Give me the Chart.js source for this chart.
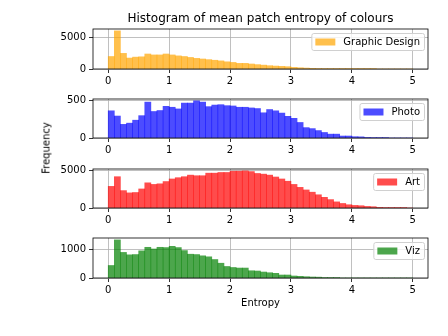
<!DOCTYPE html>
<html>
<head>
<meta charset="utf-8">
<script src="https://cdn.jsdelivr.net/npm/chart.js@4"></script>
<style>
html, body { margin: 0; padding: 0; background: #fff; }
#fig { position: relative; width: 448px; height: 336px; font-family: "DejaVu Sans", sans-serif; color: #000; }
.panel { position: absolute; left: 0; top: 0; width: 448px; height: 336px; }
.lbl { position: absolute; white-space: nowrap; }
</style>
</head>
<body>
<div id="fig">
  <div class="panel"><canvas id="gd"></canvas></div>
  <div class="panel"><canvas id="photo"></canvas></div>
  <div class="panel"><canvas id="art"></canvas></div>
  <div class="panel"><canvas id="viz"></canvas></div>
  <div class="lbl" style="left:93px; width:335px; top:10px; text-align:center; font-size:12px; line-height:16px;">Histogram of mean patch entropy of colours</div>
  <div class="lbl" style="left:93px; width:335px; top:296px; text-align:center; font-size:10px; line-height:13px;">Entropy</div>
  <div class="lbl" style="left:46px; top:148px; font-size:10px; line-height:13px; transform: translate(-50%, -50%) rotate(-90deg);">Frequency</div>
</div>
<script>
// bin centres (bins of 0.1 from 0 to 5)
const binCenters = [0.05, 0.15, 0.25, 0.35, 0.45, 0.55, 0.65, 0.75, 0.85, 0.95,
  1.05, 1.15, 1.25, 1.35, 1.45, 1.55, 1.65, 1.75, 1.85, 1.95,
  2.05, 2.15, 2.25, 2.35, 2.45, 2.55, 2.65, 2.75, 2.85, 2.95,
  3.05, 3.15, 3.25, 3.35, 3.45, 3.55, 3.65, 3.75, 3.85, 3.95,
  4.05, 4.15, 4.25, 4.35, 4.45, 4.55, 4.65, 4.75, 4.85, 4.95];
const xTicks = [0, 1, 2, 3, 4, 5];

const graphicDesign = [2000, 6100, 2500, 1750, 1900, 1950, 2400, 2250, 2250, 2400,
  2250, 2100, 2000, 1850, 1700, 1600, 1500, 1400, 1300, 1150,
  1050, 900, 900, 800, 700, 620, 530, 470, 420, 370,
  260, 200, 150, 110, 80, 50, 30, 20, 12, 8,
  5, 3, 2, 1, 0, 0, 0, 0, 0, 0];
const photo = [359, 290, 180, 196, 235, 295, 474, 350, 363, 418,
  406, 384, 461, 461, 491, 474, 414, 435, 440, 427,
  423, 406, 406, 397, 389, 333, 376, 359, 329, 286,
  260, 205, 137, 124, 98, 73, 51, 51, 26, 26,
  17, 15, 8, 4, 2, 1, 0, 0, 0, 0];
const art = [2860, 4140, 2300, 2000, 2050, 2520, 3330, 3120, 3200, 3500,
  3840, 4010, 4140, 4350, 4270, 4270, 4610, 4610, 4700, 4700,
  4870, 4870, 4910, 4820, 4570, 4480, 4350, 4100, 3840, 3540,
  3120, 2730, 2390, 2090, 1750, 1410, 1110, 810, 600, 430,
  340, 300, 210, 170, 85, 40, 20, 8, 3, 0];
const viz = [440, 1340, 900, 815, 825, 955, 1080, 1020, 1080, 1070,
  1115, 1070, 965, 837, 825, 780, 745, 650, 520, 405,
  370, 350, 350, 255, 245, 210, 185, 165, 105, 105,
  70, 58, 45, 35, 30, 10, 5, 2, 0, 0,
  0, 0, 0, 0, 0, 0, 0, 0, 0, 0];

const gdTicks = [0, 5000];
const photoTicks = [0, 500];
const artTicks = [0, 5000];
const vizTicks = [0, 1000];

const tickFont = { family: "DejaVu Sans", size: 10 };

// axes frame + legend box drawn inside the plot area
const framePlugin = {
  id: "frame",
  afterDatasetsDraw(chart) {
    const a = chart.chartArea, ctx = chart.ctx;
    ctx.save();
    ctx.strokeStyle = "#000";
    ctx.lineWidth = 0.8;
    ctx.strokeRect(a.left, a.top, a.right - a.left, a.bottom - a.top);

    const ds = chart.data.datasets[0];
    ctx.font = "10px 'DejaVu Sans'";
    const tw = ctx.measureText(ds.label).width;
    const w = 4 + 20 + 8 + tw + 4, h = 17;
    const x = a.right - 4 - w, y = a.top + 4;
    ctx.fillStyle = "rgba(255,255,255,0.8)";
    ctx.strokeStyle = "#d0d0d0";
    ctx.lineWidth = 1;
    ctx.beginPath();
    ctx.roundRect(x + 0.5, y + 0.5, w, h, 2);
    ctx.fill();
    ctx.stroke();
    ctx.fillStyle = ds.backgroundColor;
    ctx.fillRect(x + 4, y + h / 2 - 3, 20, 7);
    ctx.fillStyle = "#000";
    ctx.textBaseline = "middle";
    ctx.fillText(ds.label, x + 32, y + h / 2 + 1);
    ctx.restore();
  }
};

function makePanel(id, label, values, color, yMax, yTicks, top, bottom) {
  return new Chart(document.getElementById(id), {
    type: "bar",
    data: {
      datasets: [{
        label: label,
        data: binCenters.map((x, i) => ({ x: x, y: values[i] })),
        backgroundColor: color,
        borderWidth: 0,
        barPercentage: 1,
        categoryPercentage: 1
      }]
    },
    options: {
      responsive: true,
      maintainAspectRatio: false,
      animation: false,
      layout: { padding: { left: 0, right: 20, top: top, bottom: 336 - bottom - 20 } },
      plugins: { legend: { display: false }, tooltip: { enabled: false } },
      scales: {
        x: {
          type: "linear", min: -0.25, max: 5.25, offset: false,
          afterBuildTicks: s => { s.ticks = xTicks.map(v => ({ value: v })); },
          afterFit: s => { s.height = 20; },
          ticks: { font: tickFont, color: "#000", padding: 2, maxRotation: 0, autoSkip: false },
          grid: { offset: false, color: "#b0b0b0", lineWidth: 0.8, tickColor: "#000", tickLength: 4 },
          border: { display: false }
        },
        y: {
          min: 0, max: yMax,
          afterBuildTicks: s => { s.ticks = yTicks.map(v => ({ value: v })); },
          afterFit: s => { s.width = 93; },
          ticks: { font: tickFont, color: "#000", padding: 3, callback: v => String(v) },
          grid: { color: "#b0b0b0", lineWidth: 0.8, tickColor: "#000", tickLength: 4 },
          border: { display: false }
        }
      }
    },
    plugins: [framePlugin]
  });
}

makePanel("gd", "Graphic Design", graphicDesign, "rgba(255,165,0,0.7)", 6400, gdTicks, 29, 69);
makePanel("photo", "Photo", photo, "rgba(0,0,255,0.7)", 515, photoTicks, 99, 138);
makePanel("art", "Art", art, "rgba(255,0,0,0.7)", 5160, artTicks, 169, 208);
makePanel("viz", "Viz", viz, "rgba(0,128,0,0.7)", 1407, vizTicks, 238, 278);
</script>
</body>
</html>
